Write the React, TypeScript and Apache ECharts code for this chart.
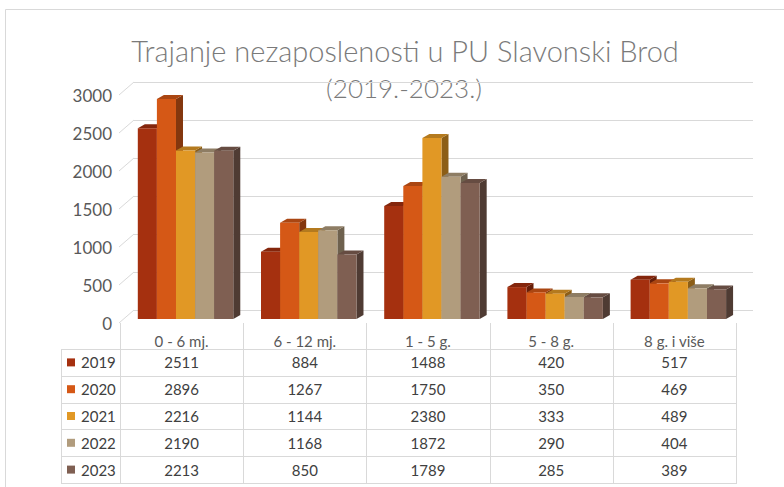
import React, { useEffect, useRef } from "react";
import * as echarts from "echarts";

const categories = ["0 - 6 mj.", "6 - 12 mj.", "1 - 5 g.", "5 - 8 g.", "8 g. i više"];
const years = ["2019", "2020", "2021", "2022", "2023"];
const values2019 = [2511, 884, 1488, 420, 517];
const values2020 = [2896, 1267, 1750, 350, 469];
const values2021 = [2216, 1144, 2380, 333, 489];
const values2022 = [2190, 1168, 1872, 290, 404];
const values2023 = [2213, 850, 1789, 285, 389];
const seriesValues = [values2019, values2020, values2021, values2022, values2023];
const colors = ["#A5300F", "#D55816", "#E19825", "#B19C7D", "#7F5F52"];
const yMax = 3000;
const yInterval = 500;
const yTicks = [0, 500, 1000, 1500, 2000, 2500, 3000];
const titleLine1 = "Trajanje nezaposlenosti u PU Slavonski Brod";
const titleLine2 = "(2019.-2023.)";

const FONT = "Lato, 'Noto Sans', sans-serif";
const W = 784;
const H = 487;

// layout
const PLOT_LEFT = 120;
const PLOT_WIDTH = 616;
const PLOT_H = 228;
const WALL_DX = 14;
const WALL_DY = -13;
const TABLE_LEFT = 61;
const TABLE_HEAD_TOP = 323;
const TABLE_ROWS_TOP = 349;
const ROW_H = 26.8;

function shade(hex: string, f: number): string {
  const n = parseInt(hex.slice(1), 16);
  const r = Math.round(((n >> 16) & 255) * f);
  const g = Math.round(((n >> 8) & 255) * f);
  const b = Math.round((n & 255) * f);
  return `rgb(${r},${g},${b})`;
}

export default function App() {
  const ref = useRef<HTMLDivElement>(null);
  useEffect(() => {
    if (!ref.current) return;
    const chart = echarts.init(ref.current, undefined, { renderer: "svg" });

    const barSeries = seriesValues.map((vals, si) => ({
      type: "custom",
      name: years[si],
      xAxisIndex: 2,
      yAxisIndex: 2,
      z: 5,
      data: vals.map((v, ci) => [ci, v]),
      renderItem: (params: any, api: any) => {
        const cat = api.value(0);
        const val = api.value(1);
        const top = api.coord([cat, val]);
        const base = api.coord([cat, 0]);
        const band = api.size([1, 0])[0];
        const bw = band * 0.155;
        const x0 = base[0] + band * 0.032 - 2.5 * bw + si * bw;
        const x1 = x0 + bw;
        const yt = top[1];
        const yb = base[1];
        const dx = 7;
        const dy = -4;
        const c = colors[si];
        return {
          type: "group",
          children: [
            {
              type: "polygon",
              shape: { points: [[x1, yt], [x1 + dx, yt + dy], [x1 + dx, yb + dy], [x1, yb]] },
              style: { fill: shade(c, 0.62) },
            },
            {
              type: "polygon",
              shape: { points: [[x0, yt], [x0 + dx, yt + dy], [x1 + dx, yt + dy], [x1, yt]] },
              style: { fill: shade(c, 0.8) },
            },
            {
              type: "rect",
              shape: { x: x0, y: yt, width: bw, height: yb - yt },
              style: { fill: c },
            },
          ],
        };
      },
    }));

    const graphics: any[] = [];
    graphics.push({
      type: "rect",
      shape: { x: 5.5, y: 9.5, width: 900, height: 600 },
      style: { fill: "none", stroke: "#d9d9d9", lineWidth: 1 },
      silent: true,
    });
    graphics.push({
      type: "text",
      x: 405,
      y: 50,
      style: {
        text: titleLine1,
        fill: "#7a7a7a",
        font: `300 29px ${FONT}`,
        textAlign: "center",
        textVerticalAlign: "middle",
      },
    });
    graphics.push({
      type: "text",
      x: 404,
      y: 88,
      style: {
        text: titleLine2,
        fill: "#7a7a7a",
        font: `300 26px ${FONT}`,
        textAlign: "center",
        textVerticalAlign: "middle",
      },
    });
    // table lines
    const colW = PLOT_WIDTH / categories.length;
    const tableBottom = TABLE_ROWS_TOP + ROW_H * years.length;
    for (let j = 0; j <= categories.length; j++) {
      const x = Math.round(PLOT_LEFT + colW * j) + 0.5;
      graphics.push({
        type: "line",
        shape: { x1: x, y1: TABLE_HEAD_TOP, x2: x, y2: tableBottom },
        style: { stroke: "#d9d9d9", lineWidth: 1 },
      });
    }
    graphics.push({
      type: "line",
      shape: { x1: TABLE_LEFT + 0.5, y1: TABLE_ROWS_TOP, x2: TABLE_LEFT + 0.5, y2: tableBottom },
      style: { stroke: "#d9d9d9", lineWidth: 1 },
    });
    for (let i = 0; i <= years.length; i++) {
      const y = Math.round(TABLE_ROWS_TOP + ROW_H * i) + 0.5;
      graphics.push({
        type: "line",
        shape: { x1: TABLE_LEFT, y1: y, x2: PLOT_LEFT + PLOT_WIDTH + 1, y2: y },
        style: { stroke: "#d9d9d9", lineWidth: 1 },
      });
    }
    years.forEach((yr, i) => {
      const cy = TABLE_ROWS_TOP + ROW_H * (i + 0.5);
      graphics.push({
        type: "rect",
        shape: { x: 67, y: cy - 4, width: 8, height: 8 },
        style: { fill: colors[i] },
      });
      graphics.push({
        type: "text",
        x: 81,
        y: cy,
        style: {
          text: yr,
          fill: "#404040",
          font: `15px ${FONT}`,
          textAlign: "left",
          textVerticalAlign: "middle",
        },
      });
      seriesValues[i].forEach((v, j) => {
        graphics.push({
          type: "text",
          x: PLOT_LEFT + colW * (j + 0.5),
          y: cy,
          style: {
            text: String(v),
            fill: "#404040",
            font: `15px ${FONT}`,
            textAlign: "center",
            textVerticalAlign: "middle",
          },
        });
      });
    });

    const option: any = {
      animation: false,
      backgroundColor: "#ffffff",
      grid: [
        { left: PLOT_LEFT, width: PLOT_WIDTH, top: 95, height: PLOT_H },
        { left: PLOT_LEFT + WALL_DX, right: 31, top: 95 + WALL_DY, height: PLOT_H },
        { left: PLOT_LEFT, width: PLOT_WIDTH, top: 91, height: PLOT_H },
      ],
      xAxis: [
        { gridIndex: 0, type: "value", min: 0, max: 1, show: false },
        { gridIndex: 1, type: "value", min: 0, max: 1, show: false },
        {
          gridIndex: 2,
          type: "category",
          data: categories,
          axisLine: { show: false },
          axisTick: { show: false },
          axisLabel: { color: "#595959", fontSize: 15, fontFamily: FONT, margin: 14 },
        },
      ],
      yAxis: [
        {
          gridIndex: 0,
          type: "value",
          min: 0,
          max: yMax,
          interval: yInterval,
          axisLine: { show: false },
          axisTick: { show: false },
          splitLine: { show: false },
          axisLabel: {
            color: "#595959",
            fontSize: 17,
            fontFamily: FONT,
            margin: 8,
            formatter: (v: number) => String(v),
          },
        },
        {
          gridIndex: 1,
          type: "value",
          min: 0,
          max: yMax,
          interval: yInterval,
          axisLine: { show: false },
          axisTick: { show: false },
          axisLabel: { show: false },
          splitLine: { show: true, lineStyle: { color: "#d9d9d9", width: 1 } },
        },
        { gridIndex: 2, type: "value", min: 0, max: yMax, interval: yInterval, show: false },
      ],
      graphic: graphics,
      series: [
        {
          type: "custom",
          xAxisIndex: 0,
          yAxisIndex: 0,
          data: yTicks.map((t) => [0, t]),
          renderItem: (params: any, api: any) => {
            const p = api.coord([0, api.value(1)]);
            return {
              type: "line",
              shape: { x1: p[0] - 1, y1: p[1], x2: p[0] - 1 + WALL_DX + 1, y2: p[1] + WALL_DY },
              style: { stroke: "#d9d9d9", lineWidth: 1 },
            };
          },
        },
        ...barSeries,
      ],
    };
    chart.setOption(option);
    return () => chart.dispose();
  }, []);
  return (
    <div
      ref={ref}
      style={{ position: "fixed", left: 0, top: 0, width: W, height: H, background: "#fff" }}
    />
  );
}
